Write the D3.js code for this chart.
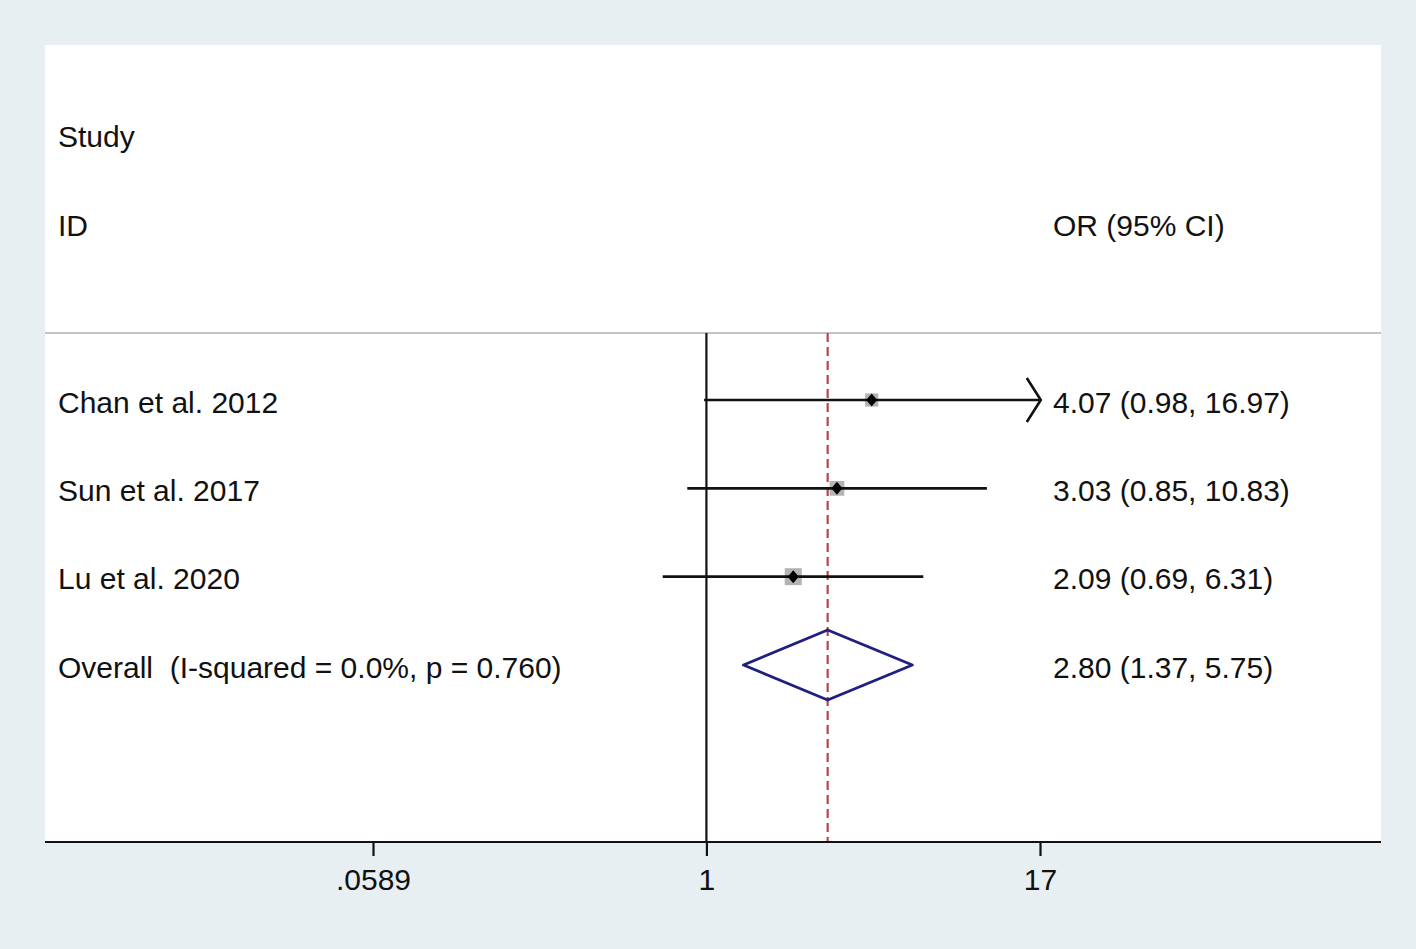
<!DOCTYPE html>
<html>
<head>
<meta charset="utf-8">
<script src="https://cdn.jsdelivr.net/npm/d3@7"></script>
<style>
  html, body { margin: 0; padding: 0; background: #e8eff2; }
  svg text { font-family: Arial, "Liberation Sans", sans-serif; fill: #111; }
</style>
</head>
<body>
<div id="chart"></div>
<script>
// study rows
var studies = ['Chan et al. 2012', 'Sun et al. 2017', 'Lu et al. 2020'];
var orEst = [4.07, 3.03, 2.09];
var orLow = [0.98, 0.85, 0.69];
var orHigh = [16.97, 10.83, 6.31];
var weights = [25.5, 32.0, 42.4];
var clipped = [true, false, false];

var overallLabel = 'Overall  (I-squared = 0.0%, p = 0.760)';
var overall = {est: 2.80, lo: 1.37, hi: 5.75};

var tickValues = [0.0589, 1, 17];
var tickLabels = ['.0589', '1', '17'];

var width = 1416, height = 949;
var panel = {left: 45, top: 45, right: 1381, bottom: 842};

var svg = d3.select('#chart').append('svg')
    .attr('width', width)
    .attr('height', height);

svg.append('rect')
    .attr('width', width).attr('height', height)
    .attr('fill', '#e8eff2');

svg.append('rect')
    .attr('x', panel.left).attr('y', panel.top)
    .attr('width', panel.right - panel.left)
    .attr('height', panel.bottom - panel.top)
    .attr('fill', '#fff');

var x = d3.scaleLog()
    .domain([0.0589, 17])
    .range([373, 1040]);

var rowNames = studies.concat([overallLabel]);
var y = d3.scalePoint()
    .domain(rowNames)
    .range([400, 665]);

var sq = d3.scaleSqrt()
    .domain([0, d3.max(weights)])
    .range([0, 17]);

var fs = 30;

// headers
svg.append('text').attr('x', 58).attr('y', 136).attr('dy', '0.35em')
    .style('font-size', fs + 'px').text('Study');
svg.append('text').attr('x', 58).attr('y', 225).attr('dy', '0.35em')
    .style('font-size', fs + 'px').text('ID');
svg.append('text').attr('x', 1053).attr('y', 225).attr('dy', '0.35em')
    .style('font-size', fs + 'px').text('OR (95% CI)');

svg.append('line')
    .attr('x1', panel.left).attr('x2', panel.right)
    .attr('y1', 333).attr('y2', 333)
    .attr('stroke', '#c4c4c4').attr('stroke-width', 2);

// null line
svg.append('line')
    .attr('x1', x(1)).attr('x2', x(1))
    .attr('y1', 333).attr('y2', panel.bottom)
    .attr('stroke', '#111').attr('stroke-width', 2.2);

// overall dashed line
svg.append('line')
    .attr('x1', x(overall.est)).attr('x2', x(overall.est))
    .attr('y1', 333).attr('y2', panel.bottom)
    .attr('stroke', '#b5464b').attr('stroke-width', 2.2)
    .attr('stroke-dasharray', '9,5');

var rows = studies.map(function(s, i) {
    return {name: s, est: orEst[i], lo: orLow[i], hi: orHigh[i], w: weights[i], clip: clipped[i]};
});

var g = svg.append('g').selectAll('g.row')
    .data(rows)
  .enter().append('g')
    .attr('class', 'row');

g.append('rect')
    .attr('x', function(d) { return x(d.est) - sq(d.w) / 2; })
    .attr('y', function(d) { return y(d.name) - sq(d.w) / 2; })
    .attr('width', function(d) { return sq(d.w); })
    .attr('height', function(d) { return sq(d.w); })
    .attr('fill', '#b4b4b4');

g.append('line')
    .attr('x1', function(d) { return x(d.lo); })
    .attr('x2', function(d) { return x(d.hi); })
    .attr('y1', function(d) { return y(d.name); })
    .attr('y2', function(d) { return y(d.name); })
    .attr('stroke', '#111').attr('stroke-width', 2.6);

g.filter(function(d) { return d.clip; }).append('path')
    .attr('d', function(d) {
        var xx = x(d.hi), yy = y(d.name);
        return 'M' + (xx - 13) + ',' + (yy - 22) + 'L' + (xx + 1) + ',' + yy + 'L' + (xx - 13) + ',' + (yy + 22);
    })
    .attr('fill', 'none').attr('stroke', '#111').attr('stroke-width', 2.6);

g.append('path')
    .attr('d', function(d) {
        var xx = x(d.est), yy = y(d.name);
        return 'M' + (xx - 5.5) + ',' + yy + 'L' + xx + ',' + (yy - 6.5) + 'L' + (xx + 5.5) + ',' + yy + 'L' + xx + ',' + (yy + 6.5) + 'Z';
    })
    .attr('fill', '#000');

g.append('text')
    .attr('x', 58)
    .attr('y', function(d) { return y(d.name) + 2; })
    .attr('dy', '0.35em')
    .style('font-size', fs + 'px')
    .text(function(d) { return d.name; });

g.append('text')
    .attr('x', 1053)
    .attr('y', function(d) { return y(d.name) + 2; })
    .attr('dy', '0.35em')
    .style('font-size', fs + 'px')
    .text(function(d) { return d.est.toFixed(2) + ' (' + d.lo.toFixed(2) + ', ' + d.hi.toFixed(2) + ')'; });

// overall diamond
var oy = y(overallLabel);
svg.append('path')
    .attr('d', 'M' + x(overall.lo) + ',' + oy + 'L' + x(overall.est) + ',' + (oy - 35) +
               'L' + x(overall.hi) + ',' + oy + 'L' + x(overall.est) + ',' + (oy + 35) + 'Z')
    .attr('fill', 'none').attr('stroke', '#1f1f80').attr('stroke-width', 2.8)
    .attr('stroke-linejoin', 'round');

svg.append('text').attr('x', 58).attr('y', oy + 2).attr('dy', '0.35em')
    .style('font-size', fs + 'px').style('white-space', 'pre')
    .text(overallLabel);
svg.append('text').attr('x', 1053).attr('y', oy + 2).attr('dy', '0.35em')
    .style('font-size', fs + 'px')
    .text(overall.est.toFixed(2) + ' (' + overall.lo.toFixed(2) + ', ' + overall.hi.toFixed(2) + ')');

// x axis
var axis = svg.append('g')
    .attr('transform', 'translate(0,' + panel.bottom + ')')
    .call(d3.axisBottom(x)
        .tickValues(tickValues)
        .tickFormat(function(d, i) { return tickLabels[i]; })
        .tickSize(14)
        .tickPadding(13));

axis.select('.domain').remove();
axis.selectAll('.tick line').attr('stroke', '#111').attr('stroke-width', 2.2);
axis.selectAll('.tick text')
    .style('font-size', fs + 'px')
    .style('font-family', 'Arial, "Liberation Sans", sans-serif')
    .attr('fill', '#111');

svg.append('line')
    .attr('x1', panel.left).attr('x2', panel.right)
    .attr('y1', panel.bottom).attr('y2', panel.bottom)
    .attr('stroke', '#111').attr('stroke-width', 2.2);
</script>
</body>
</html>
